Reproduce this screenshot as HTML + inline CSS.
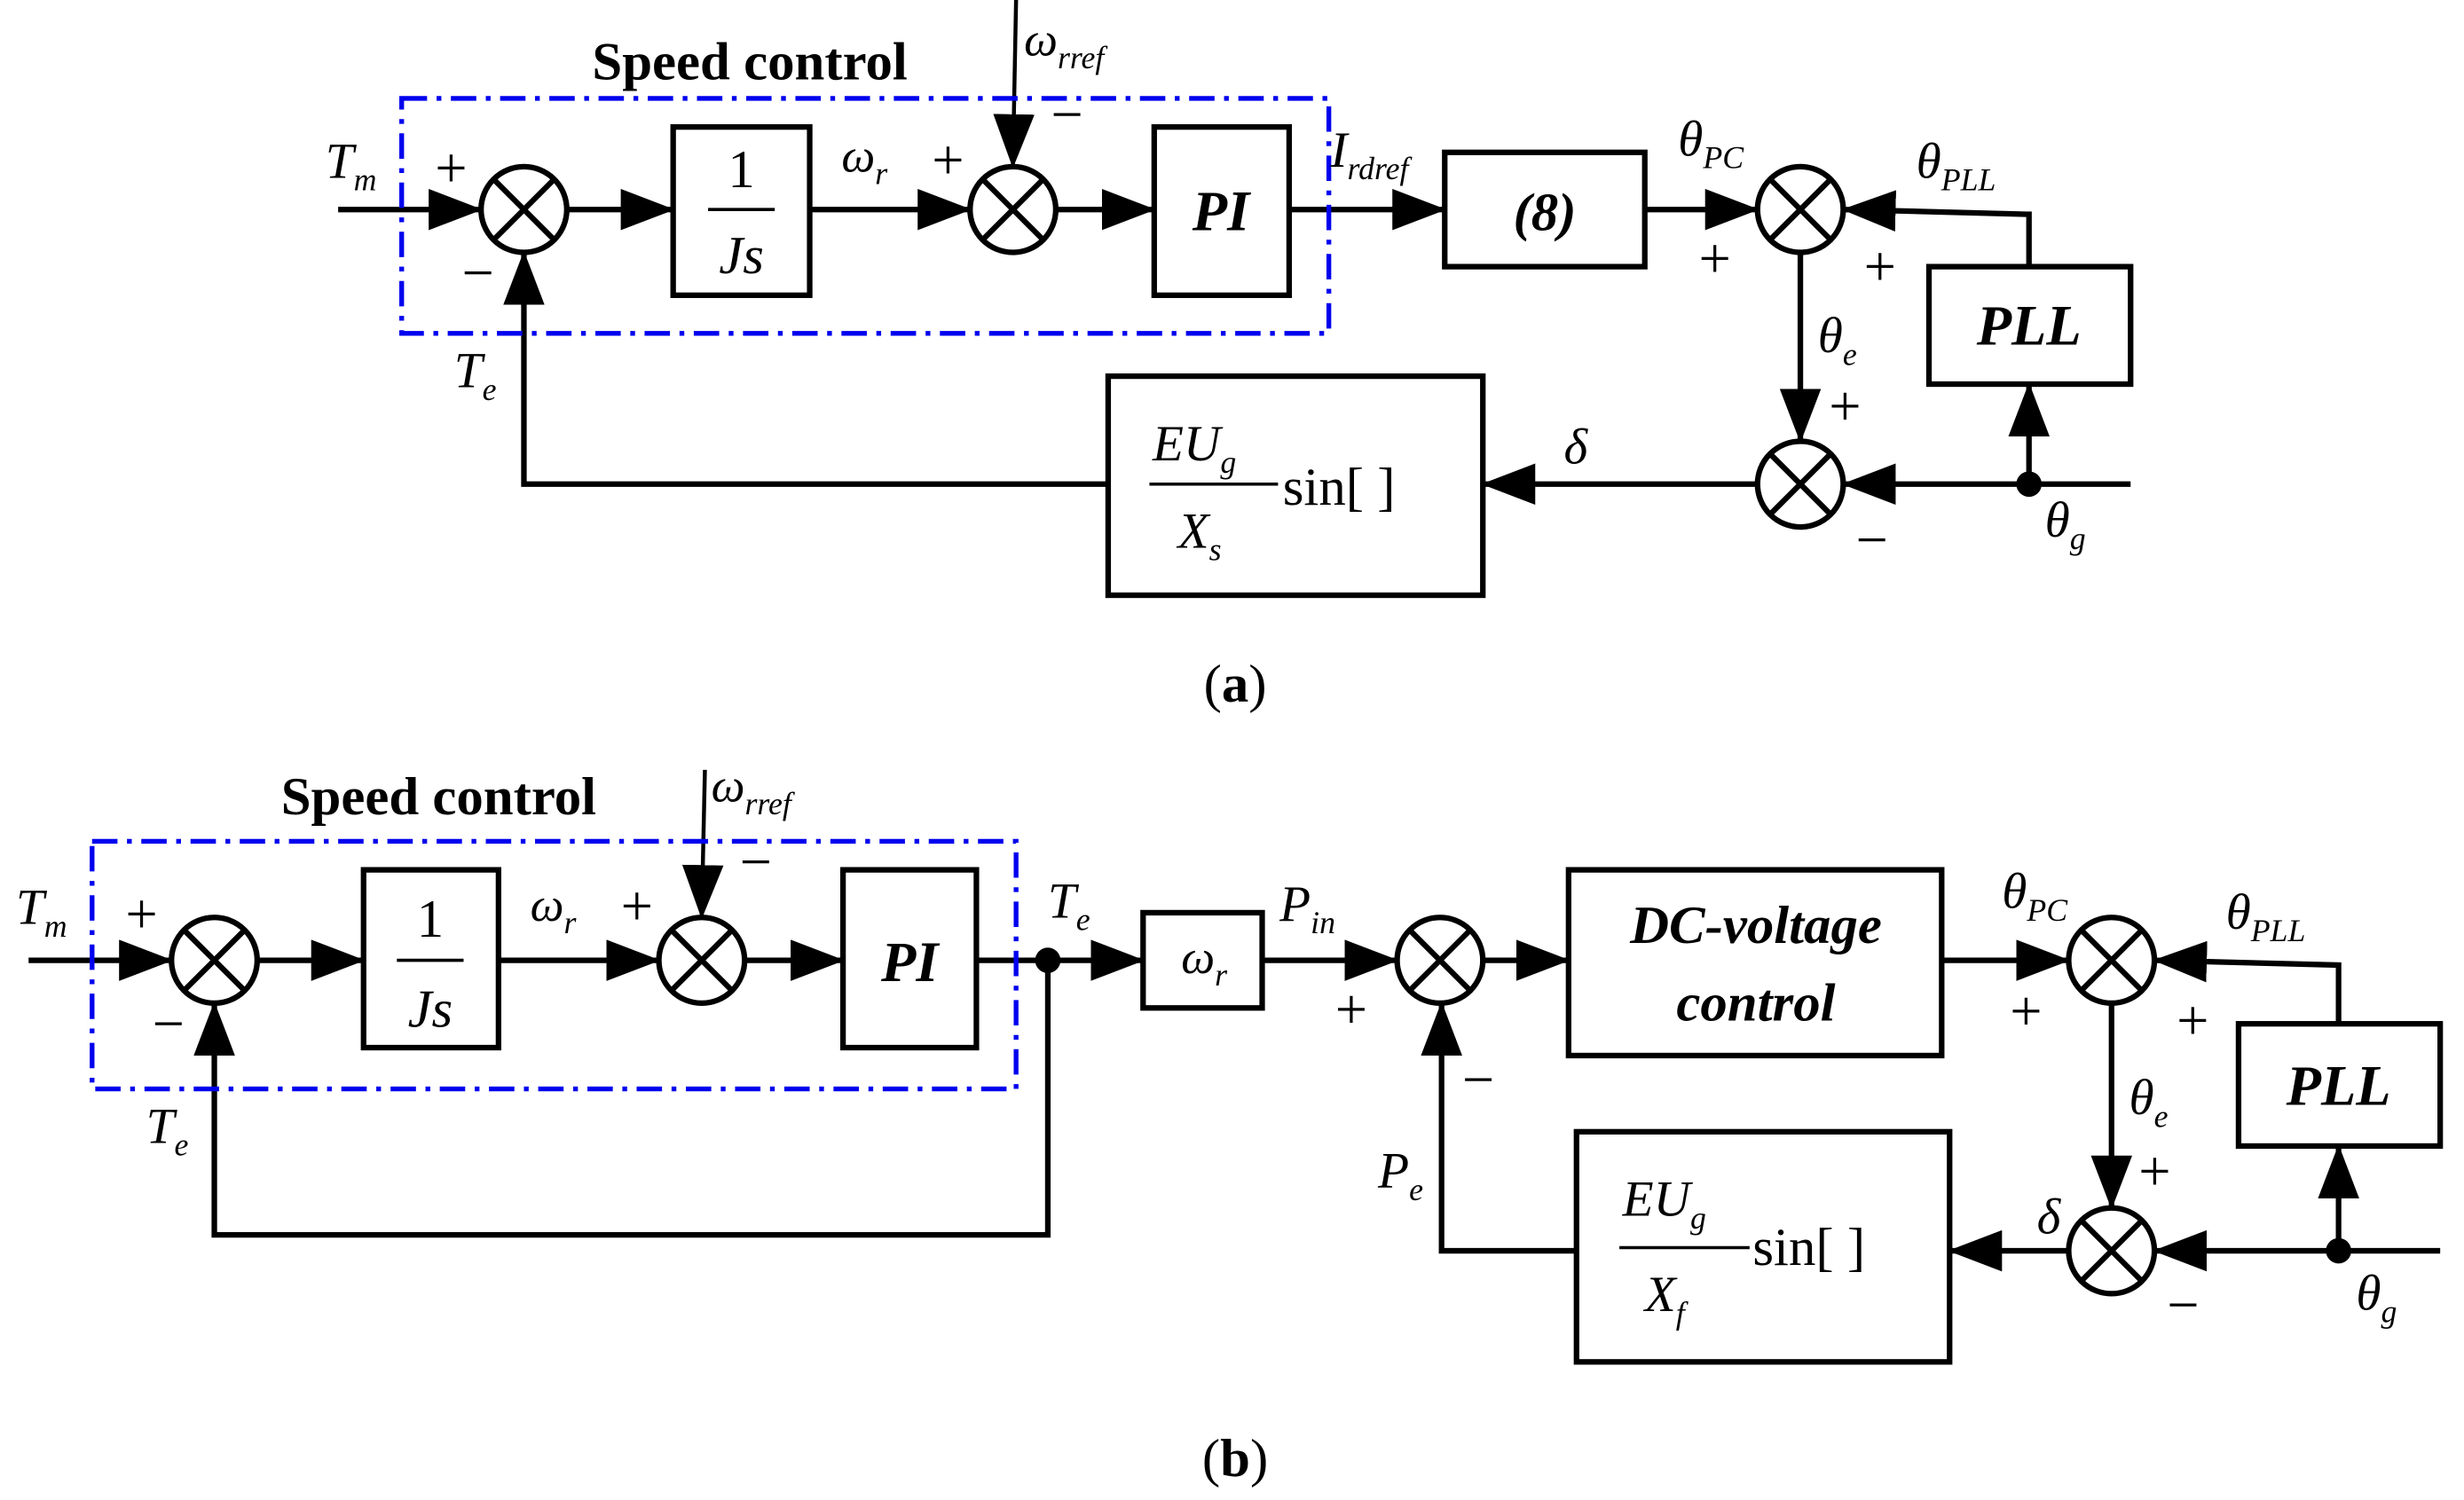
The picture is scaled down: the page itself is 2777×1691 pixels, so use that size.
<!DOCTYPE html>
<html><head><meta charset="utf-8"><style>
html,body{margin:0;padding:0;background:#fff;}
svg{display:block;}
text{font-family:"Liberation Serif",serif;fill:#000;}
.i{font-style:italic;}
.b{font-weight:bold;}
.s{font-size:36px;}
</style></head><body>
<svg width="2777" height="1691" viewBox="0 0 1552 945" preserveAspectRatio="none" xmlns="http://www.w3.org/2000/svg">
<defs>
<marker id="a" markerUnits="userSpaceOnUse" markerWidth="34" markerHeight="26" refX="32" refY="13" orient="auto">
<polygon points="0,0 34,13 0,26" fill="#000"/></marker>
</defs>
<g fill="none" stroke="#000" stroke-width="3.5">
<line x1="213" y1="132" x2="302" y2="132" marker-end="url(#a)"/>
<circle cx="330" cy="132" r="27"/><line x1="311" y1="113" x2="349" y2="151"/><line x1="349" y1="113" x2="311" y2="151"/>
<line x1="357" y1="132" x2="423" y2="132" marker-end="url(#a)"/>
<rect x="424" y="80" width="86" height="106"/>
<line x1="510" y1="132" x2="610" y2="132" marker-end="url(#a)"/>
<line x1="640" y1="0" x2="638" y2="104" stroke-width="2.5" marker-end="url(#a)"/>
<circle cx="638" cy="132" r="27"/><line x1="619" y1="113" x2="657" y2="151"/><line x1="657" y1="113" x2="619" y2="151"/>
<line x1="665" y1="132" x2="726" y2="132" marker-end="url(#a)"/>
<rect x="727" y="80" width="85" height="106"/>
<line x1="812" y1="132" x2="909" y2="132" marker-end="url(#a)"/>
<rect x="910" y="96" width="126" height="72"/>
<line x1="1036" y1="132" x2="1106" y2="132" marker-end="url(#a)"/>
<circle cx="1134" cy="132" r="27"/><line x1="1115" y1="113" x2="1153" y2="151"/><line x1="1153" y1="113" x2="1115" y2="151"/>
<polyline points="1278,168 1278,135 1162,132" marker-end="url(#a)"/>
<rect x="1215" y="168" width="127" height="74"/>
<line x1="1134" y1="159" x2="1134" y2="277" marker-end="url(#a)"/>
<circle cx="1134" cy="305" r="27"/><line x1="1115" y1="286" x2="1153" y2="324"/><line x1="1153" y1="286" x2="1115" y2="324"/>
<line x1="1342" y1="305" x2="1162" y2="305" marker-end="url(#a)"/>
<line x1="1278" y1="305" x2="1278" y2="243" marker-end="url(#a)"/>
<line x1="1107" y1="305" x2="935" y2="305" marker-end="url(#a)"/>
<rect x="698" y="237" width="236" height="138"/>
<line x1="724" y1="305" x2="805" y2="305" stroke-width="2"/>
<polyline points="698,305 330,305 330,160" marker-end="url(#a)"/>
<rect x="253" y="62" width="584" height="148" stroke="#0000ee" stroke-width="3" stroke-dasharray="16,6,3,6"/>
<line x1="18" y1="605" x2="107" y2="605" marker-end="url(#a)"/>
<circle cx="135" cy="605" r="27"/><line x1="116" y1="586" x2="154" y2="624"/><line x1="154" y1="586" x2="116" y2="624"/>
<line x1="162" y1="605" x2="228" y2="605" marker-end="url(#a)"/>
<rect x="229" y="548" width="85" height="112"/>
<line x1="314" y1="605" x2="414" y2="605" marker-end="url(#a)"/>
<line x1="444" y1="485" x2="442" y2="577" stroke-width="2.5" marker-end="url(#a)"/>
<circle cx="442" cy="605" r="27"/><line x1="423" y1="586" x2="461" y2="624"/><line x1="461" y1="586" x2="423" y2="624"/>
<line x1="469" y1="605" x2="530" y2="605" marker-end="url(#a)"/>
<rect x="531" y="548" width="84" height="112"/>
<line x1="615" y1="605" x2="719" y2="605" marker-end="url(#a)"/>
<rect x="720" y="575" width="75" height="60"/>
<line x1="795" y1="605" x2="879" y2="605" marker-end="url(#a)"/>
<circle cx="907" cy="605" r="27"/><line x1="888" y1="586" x2="926" y2="624"/><line x1="926" y1="586" x2="888" y2="624"/>
<line x1="934" y1="605" x2="987" y2="605" marker-end="url(#a)"/>
<rect x="988" y="548" width="235" height="117"/>
<line x1="1223" y1="605" x2="1302" y2="605" marker-end="url(#a)"/>
<circle cx="1330" cy="605" r="27"/><line x1="1311" y1="586" x2="1349" y2="624"/><line x1="1349" y1="586" x2="1311" y2="624"/>
<polyline points="1473,645 1473,608 1358,605" marker-end="url(#a)"/>
<rect x="1410" y="645" width="127" height="77"/>
<line x1="1330" y1="632" x2="1330" y2="760" marker-end="url(#a)"/>
<circle cx="1330" cy="788" r="27"/><line x1="1311" y1="769" x2="1349" y2="807"/><line x1="1349" y1="769" x2="1311" y2="807"/>
<line x1="1537" y1="788" x2="1358" y2="788" marker-end="url(#a)"/>
<line x1="1473" y1="788" x2="1473" y2="723" marker-end="url(#a)"/>
<line x1="1303" y1="788" x2="1229" y2="788" marker-end="url(#a)"/>
<rect x="993" y="713" width="235" height="145"/>
<line x1="1020" y1="786" x2="1102" y2="786" stroke-width="2"/>
<polyline points="993,788 908,788 908,633" marker-end="url(#a)"/>
<polyline points="660,605 660,778 135,778 135,633" marker-end="url(#a)"/>
<rect x="58" y="530" width="582" height="156" stroke="#0000ee" stroke-width="3" stroke-dasharray="16,6,3,6"/>
</g>
<g fill="#000">
<circle cx="1278" cy="305" r="8"/><circle cx="660" cy="605" r="8"/><circle cx="1473" cy="788" r="8"/>
</g>
<text x="373" y="50" class="b" font-size="34">Speed control</text>
<text x="645" y="35" class="i" font-size="30">ω<tspan font-size="20" dy="8">rref</tspan></text>
<text x="205" y="112" class="i" font-size="32">T<tspan font-size="20" dy="8">m</tspan></text>
<text x="274" y="118" class="s">+</text>
<text x="291" y="184" class="s">−</text>
<text x="286" y="244" class="i" font-size="32">T<tspan font-size="20" dy="8">e</tspan></text>
<text x="467" y="118" text-anchor="middle" font-size="34">1</text>
<line x1="446" y1="132" x2="488" y2="132" stroke="#000" stroke-width="2"/>
<text x="467" y="172" text-anchor="middle" class="i" font-size="34">Js</text>
<text x="530" y="108" class="i" font-size="30">ω<tspan font-size="20" dy="8">r</tspan></text>
<text x="587" y="113" class="s">+</text>
<text x="662" y="84" class="s">−</text>
<text x="769" y="145" text-anchor="middle" class="i b" font-size="36">PI</text>
<text x="838" y="105" class="i" font-size="32">I<tspan font-size="20" dy="8">rdref</tspan></text>
<text x="973" y="145" text-anchor="middle" class="i b" font-size="34">(8)</text>
<text x="1057" y="98" class="i" font-size="32">θ<tspan font-size="20" dy="8">PC</tspan></text>
<text x="1207" y="112" class="i" font-size="32">θ<tspan font-size="20" dy="8">PLL</tspan></text>
<text x="1070" y="175" class="s">+</text>
<text x="1174" y="180" class="s">+</text>
<text x="1278" y="217" text-anchor="middle" class="i b" font-size="36">PLL</text>
<text x="1145" y="222" class="i" font-size="32">θ<tspan font-size="20" dy="8">e</tspan></text>
<text x="1152" y="268" class="s">+</text>
<text x="1169" y="352" class="s">−</text>
<text x="985" y="292" class="i" font-size="32">δ</text>
<text x="1288" y="338" class="i" font-size="32">θ<tspan font-size="20" dy="8">g</tspan></text>
<text x="726" y="290" class="i" font-size="32">EU<tspan font-size="20" dy="8">g</tspan></text>
<text x="742" y="345" class="i" font-size="32">X<tspan font-size="20" dy="8">s</tspan></text>
<text x="808" y="318" font-size="34">sin[  ]</text>
<text x="778" y="442" text-anchor="middle" font-size="34">(<tspan class="b">a</tspan>)</text>
<text x="177" y="513" class="b" font-size="34">Speed control</text>
<text x="448" y="505" class="i" font-size="30">ω<tspan font-size="20" dy="8">rref</tspan></text>
<text x="10" y="582" class="i" font-size="32">T<tspan font-size="20" dy="8">m</tspan></text>
<text x="79" y="588" class="s">+</text>
<text x="96" y="657" class="s">−</text>
<text x="92" y="720" class="i" font-size="32">T<tspan font-size="20" dy="8">e</tspan></text>
<text x="271" y="590" text-anchor="middle" font-size="34">1</text>
<line x1="250" y1="605" x2="292" y2="605" stroke="#000" stroke-width="2"/>
<text x="271" y="647" text-anchor="middle" class="i" font-size="34">Js</text>
<text x="334" y="580" class="i" font-size="30">ω<tspan font-size="20" dy="8">r</tspan></text>
<text x="391" y="583" class="s">+</text>
<text x="466" y="555" class="s">−</text>
<text x="573" y="618" text-anchor="middle" class="i b" font-size="36">PI</text>
<text x="660" y="578" class="i" font-size="32">T<tspan font-size="20" dy="8">e</tspan></text>
<text x="744" y="613" class="i" font-size="30">ω<tspan font-size="20" dy="8">r</tspan></text>
<text x="806" y="580" class="i" font-size="32">P<tspan font-size="20" dy="8">in</tspan></text>
<text x="841" y="648" class="s">+</text>
<text x="921" y="692" class="s">−</text>
<text x="868" y="748" class="i" font-size="32">P<tspan font-size="20" dy="8">e</tspan></text>
<text x="1106" y="594" text-anchor="middle" class="i b" font-size="34">DC-voltage</text>
<text x="1106" y="643" text-anchor="middle" class="i b" font-size="34">control</text>
<text x="1261" y="572" class="i" font-size="32">θ<tspan font-size="20" dy="8">PC</tspan></text>
<text x="1402" y="585" class="i" font-size="32">θ<tspan font-size="20" dy="8">PLL</tspan></text>
<text x="1266" y="649" class="s">+</text>
<text x="1371" y="655" class="s">+</text>
<text x="1473" y="696" text-anchor="middle" class="i b" font-size="36">PLL</text>
<text x="1341" y="702" class="i" font-size="32">θ<tspan font-size="20" dy="8">e</tspan></text>
<text x="1347" y="750" class="s">+</text>
<text x="1283" y="777" class="i" font-size="32">δ</text>
<text x="1365" y="834" class="s">−</text>
<text x="1484" y="825" class="i" font-size="32">θ<tspan font-size="20" dy="8">g</tspan></text>
<text x="1022" y="766" class="i" font-size="32">EU<tspan font-size="20" dy="8">g</tspan></text>
<text x="1036" y="826" class="i" font-size="32">X<tspan font-size="20" dy="8">f</tspan></text>
<text x="1104" y="797" font-size="34">sin[  ]</text>
<text x="778" y="930" text-anchor="middle" font-size="34">(<tspan class="b">b</tspan>)</text>
</svg>
</body></html>
